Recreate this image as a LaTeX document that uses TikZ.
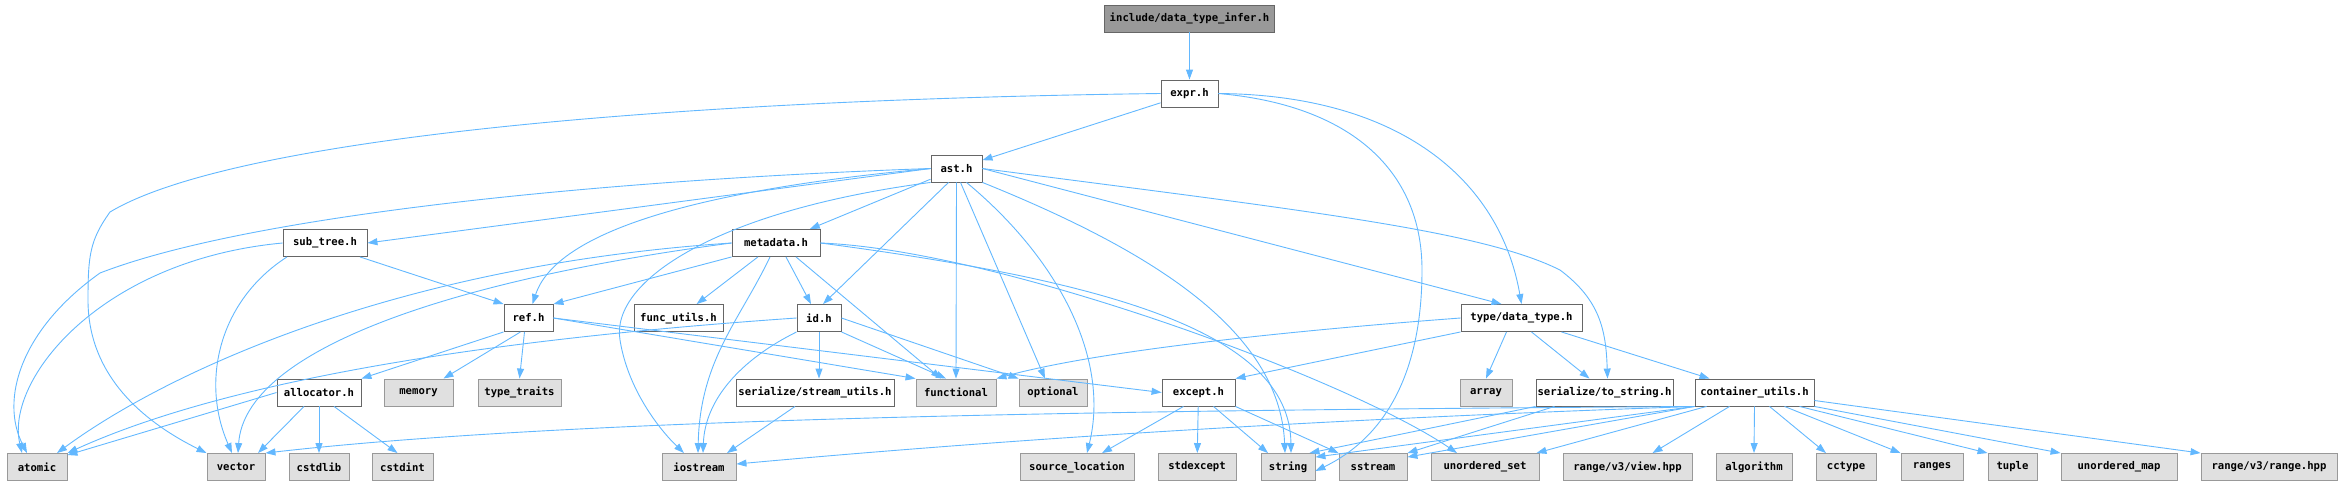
\documentclass[tikz,border=0pt]{standalone}
\usepackage{fontspec}
\usepackage{xcolor}
\usepackage{tikz}
\usetikzlibrary{arrows.meta}
\newfontfamily\hfont{DejaVu Sans Mono}
\definecolor{edgeblue}{RGB}{99,184,255}
\definecolor{boxgray}{RGB}{102,102,102}
\definecolor{sysgray}{RGB}{153,153,153}
\definecolor{sysfill}{RGB}{224,224,224}
\definecolor{rootfill}{RGB}{153,153,153}
\tikzstyle{hfile} = [rectangle, minimum height=27pt, inner xsep=1.5pt, inner ysep=0pt, draw=boxgray, line width=0.9pt, fill=white, text=black, font=\hfont\bfseries\fontsize{10.6pt}{12pt}\selectfont]
\tikzstyle{sysfile} = [hfile, draw=sysgray, fill=sysfill]
\tikzstyle{rootfile} = [hfile, fill=rootfill]
\tikzstyle{incl} = [draw=edgeblue, line width=0.9pt, -{Triangle[length=10pt,width=7pt]}]

\begin{document}
\begin{tikzpicture}[x=1pt, y=-1pt]
\useasboundingbox (0,0) rectangle (2343,485);

% --------- Own headers ----------
\node (INFER)   [rootfile, minimum width=170pt] at (1189.5,18.5) {include/data\_type\_infer.h};
\node (EXPR)    [hfile, minimum width=57pt]  at (1189.5,93.5) {expr.h};
\node (AST)     [hfile, minimum width=51pt]  at (956.5,168.5) {ast.h};
\node (SUBTREE) [hfile, minimum width=84pt]  at (325,243) {sub\_tree.h};
\node (META)    [hfile, minimum width=88pt]  at (776,243) {metadata.h};
\node (REF)     [hfile, minimum width=49pt]  at (528.5,318) {ref.h};
\node (FUNCU)   [hfile, minimum width=89pt]  at (678.5,318) {func\_utils.h};
\node (ID)      [hfile, minimum width=44pt]  at (819,318) {id.h};
\node (DTYPE)   [hfile, minimum width=121pt] at (1521.5,318) {type/data\_type.h};
\node (ALLOC)   [hfile, minimum width=84pt]  at (319,392.5) {allocator.h};
\node (STREAMU) [hfile, minimum width=158pt] at (815,392.5) {serialize/stream\_utils.h};
\node (EXCEPT)  [hfile, minimum width=73pt]  at (1198.5,392.5) {except.h};
\node (TOSTR)   [hfile, minimum width=137pt] at (1604.5,392.5) {serialize/to\_string.h};
\node (CONTU)   [hfile, minimum width=119pt] at (1754.5,392.5) {container\_utils.h};

% --------- System headers ----------
\node (MEMORY)     [sysfile, minimum width=69pt]  at (418.5,392.5) {memory};
\node (TTRAITS)    [sysfile, minimum width=83pt]  at (519.5,392.5) {type\_traits};
\node (FUNCTIONAL) [sysfile, minimum width=80pt]  at (956,392.5) {functional};
\node (OPTIONAL)   [sysfile, minimum width=68pt]  at (1053,392.5) {optional};
\node (ARRAY)      [sysfile, minimum width=52pt]  at (1486,392.5) {array};
\node (ATOMIC)     [sysfile, minimum width=60pt]  at (37,467) {atomic};
\node (VECTOR)     [sysfile, minimum width=58pt]  at (236,467) {vector};
\node (CSTDLIB)    [sysfile, minimum width=60pt]  at (319,467) {cstdlib};
\node (CSTDINT)    [sysfile, minimum width=61pt]  at (402.5,467) {cstdint};
\node (IOSTREAM)   [sysfile, minimum width=74pt]  at (699,467) {iostream};
\node (SRCLOC)     [sysfile, minimum width=114pt] at (1077,467) {source\_location};
\node (STDEXCEPT)  [sysfile, minimum width=78pt]  at (1197,467) {stdexcept};
\node (STRING)     [sysfile, minimum width=54pt]  at (1288,467) {string};
\node (SSTREAM)    [sysfile, minimum width=68pt]  at (1373,467) {sstream};
\node (USET)       [sysfile, minimum width=108pt] at (1485,467) {unordered\_set};
\node (RVIEW)      [sysfile, minimum width=129pt] at (1627.5,467) {range/v3/view.hpp};
\node (ALGO)       [sysfile, minimum width=76pt]  at (1754,467) {algorithm};
\node (CCTYPE)     [sysfile, minimum width=60pt]  at (1846,467) {cctype};
\node (RANGES)     [sysfile, minimum width=62pt]  at (1932,467) {ranges};
\node (TUPLE)      [sysfile, minimum width=49pt]  at (2012.5,467) {tuple};
\node (UMAP)       [sysfile, minimum width=116pt] at (2119,467) {unordered\_map};
\node (RRANGE)     [sysfile, minimum width=136pt] at (2269,467) {range/v3/range.hpp};

% Edges (top)
\draw [incl] (INFER) -- (EXPR);
\draw [incl] (EXPR) -- (AST);
\draw [incl] (EXPR.west) .. controls (650,100) and (230,140) .. (110,212) .. controls (90,240) and (88,255) .. (88,300) .. controls (88,380) and (150,425) .. (VECTOR.north west);
\draw [incl] (EXPR.east) .. controls (1350,105) and (1422,170) .. (1422,270) .. controls (1422,380) and (1380,440) .. ([yshift=-4pt]STRING.east);
\draw [incl] (EXPR.east) .. controls (1400,95) and (1500,180) .. (DTYPE.north);

% Edges (ast.h)
\draw [incl] (AST.west) -- (SUBTREE.east);
\draw [incl] (AST.west) .. controls (600,180) and (250,215) .. (100,273) .. controls (20,330) and (0,400) .. ([xshift=-10pt]ATOMIC.north);
\draw [incl] (AST) -- (META);
\draw [incl] (AST.west) .. controls (750,185) and (560,220) .. ([xshift=4pt]REF.north);
\draw [incl] (AST.south west) .. controls (720,210) and (610,280) .. (620,340) .. controls (628,390) and (660,430) .. ([xshift=-15pt]IOSTREAM.north);
\draw [incl] ([xshift=-8pt]AST.south) -- ([xshift=4pt]ID.north);
\draw [incl] (AST.south) -- (FUNCTIONAL.north);
\draw [incl] ([xshift=4pt]AST.south) -- ([xshift=-8pt]OPTIONAL.north);
\draw [incl] ([xshift=10pt]AST.south) .. controls (1060,260) and (1110,360) .. ([xshift=10pt]SRCLOC.north);
\draw [incl] (AST.south east) .. controls (1150,250) and (1280,330) .. ([xshift=-3pt]STRING.north);
\draw [incl] (AST.east) -- ([xshift=-20pt]DTYPE.north);
\draw [incl] (AST.east) .. controls (1300,210) and (1480,230) .. (1560,270) .. controls (1600,300) and (1606,330) .. ([xshift=3pt]TOSTR.north);

% Edges (sub_tree.h, metadata.h)
\draw [incl] (SUBTREE.west) .. controls (100,260) and (5,380) .. ([xshift=-15pt]ATOMIC.north);
\draw [incl] ([xshift=-38pt]SUBTREE.south) .. controls (220,300) and (200,380) .. ([xshift=-4pt]VECTOR.north);
\draw [incl] ([xshift=35pt]SUBTREE.south) -- (REF.north west);
\draw [incl] (META.south west) -- (REF.north east);
\draw [incl] (META.west) .. controls (400,265) and (170,370) .. ([xshift=20pt]ATOMIC.north);
\draw [incl] (META.west) .. controls (450,280) and (245,350) .. ([xshift=2pt]VECTOR.north);
\draw [incl] (META) -- (FUNCU);
\draw [incl] ([xshift=-6pt]META.south) .. controls (740,320) and (700,360) .. ([xshift=-1pt]IOSTREAM.north);
\draw [incl] ([xshift=10pt]META.south) -- ([xshift=-8pt]ID.north);
\draw [incl] ([xshift=20pt]META.south) -- ([xshift=-15pt]FUNCTIONAL.north);
\draw [incl] (META.east) .. controls (1100,280) and (1290,330) .. ([xshift=3pt]STRING.north);
\draw [incl] (META.east) .. controls (1000,250) and (1350,380) .. ([xshift=-28pt]USET.north);

% Edges (ref.h, allocator.h, id.h)
\draw [incl] (REF.south west) -- (ALLOC.north east);
\draw [incl] ([xshift=-8pt]REF.south) -- ([xshift=25pt]MEMORY.north);
\draw [incl] ([xshift=-4pt]REF.south) -- (TTRAITS.north);
\draw [incl] (REF.east) -- (FUNCTIONAL.north west);
\draw [incl] (REF.east) -- (EXCEPT.west);
\draw [incl] (ALLOC.west) -- ([yshift=-2pt]ATOMIC.north east);
\draw [incl] ([xshift=-15pt]ALLOC.south) -- ([xshift=22pt]VECTOR.north);
\draw [incl] (ALLOC.south) -- (CSTDLIB.north);
\draw [incl] ([xshift=15pt]ALLOC.south) -- ([xshift=-5pt]CSTDINT.north);
\draw [incl] (ID.south) -- ([xshift=4pt]STREAMU.north);
\draw [incl] (ID.south east) -- ([xshift=-10pt]FUNCTIONAL.north);
\draw [incl] (ID.south west) .. controls (740,360) and (705,400) .. ([xshift=4pt]IOSTREAM.north);
\draw [incl] (ID.west) .. controls (550,335) and (250,370) .. (ATOMIC.north east);
\draw [incl] (ID.east) -- (OPTIONAL.north west);
\draw [incl] ([xshift=-20pt]STREAMU.south) -- ([xshift=28pt]IOSTREAM.north);

% Edges (type/data_type.h, except.h, serialize)
\draw [incl] ([xshift=-15pt]DTYPE.south) -- (ARRAY.north);
\draw [incl] ([xshift=10pt]DTYPE.south) -- ([xshift=-15pt]TOSTR.north);
\draw [incl] ([xshift=40pt]DTYPE.south) -- ([xshift=-45pt]CONTU.north);
\draw [incl] (DTYPE.south west) -- (EXCEPT.north east);
\draw [incl] (DTYPE.west) .. controls (1300,330) and (1100,350) .. (FUNCTIONAL.north east);
\draw [incl] ([xshift=-15pt]EXCEPT.south) -- ([xshift=25pt]SRCLOC.north);
\draw [incl] (EXCEPT) -- (STDEXCEPT);
\draw [incl] ([xshift=15pt]EXCEPT.south) -- ([xshift=-20pt]STRING.north);
\draw [incl] (EXCEPT.south east) -- (SSTREAM.north west);
\draw [incl] (TOSTR.south west) -- ([xshift=-6pt]STRING.north east);
\draw [incl] ([xshift=-50pt]TOSTR.south) -- (SSTREAM.north east);

% Edges (container_utils.h)
\draw [incl] (CONTU.south west) .. controls (1200,410) and (600,415) .. (VECTOR.north east);
\draw [incl] (CONTU.south west) .. controls (1300,420) and (1000,440) .. ([yshift=3pt]IOSTREAM.east);
\draw [incl] (CONTU.south west) -- ([yshift=-4pt]STRING.north east);
\draw [incl] (CONTU.south west) -- ([yshift=-4pt]SSTREAM.north east);
\draw [incl] ([xshift=12pt]CONTU.south west) -- ([xshift=-3pt]USET.north east);
\draw [incl] ([xshift=-25pt]CONTU.south) -- ([xshift=25pt]RVIEW.north);
\draw [incl] (CONTU.south) -- (ALGO.north);
\draw [incl] ([xshift=15pt]CONTU.south) -- ([xshift=-20pt]CCTYPE.north);
\draw [incl] ([xshift=30pt]CONTU.south) -- (RANGES.north west);
\draw [incl] ([xshift=45pt]CONTU.south) -- (TUPLE.north west);
\draw [incl] (CONTU.south east) -- (UMAP.north west);
\draw [incl] ([yshift=-8pt]CONTU.east) -- (RRANGE.north west);

\end{tikzpicture}
\end{document}
